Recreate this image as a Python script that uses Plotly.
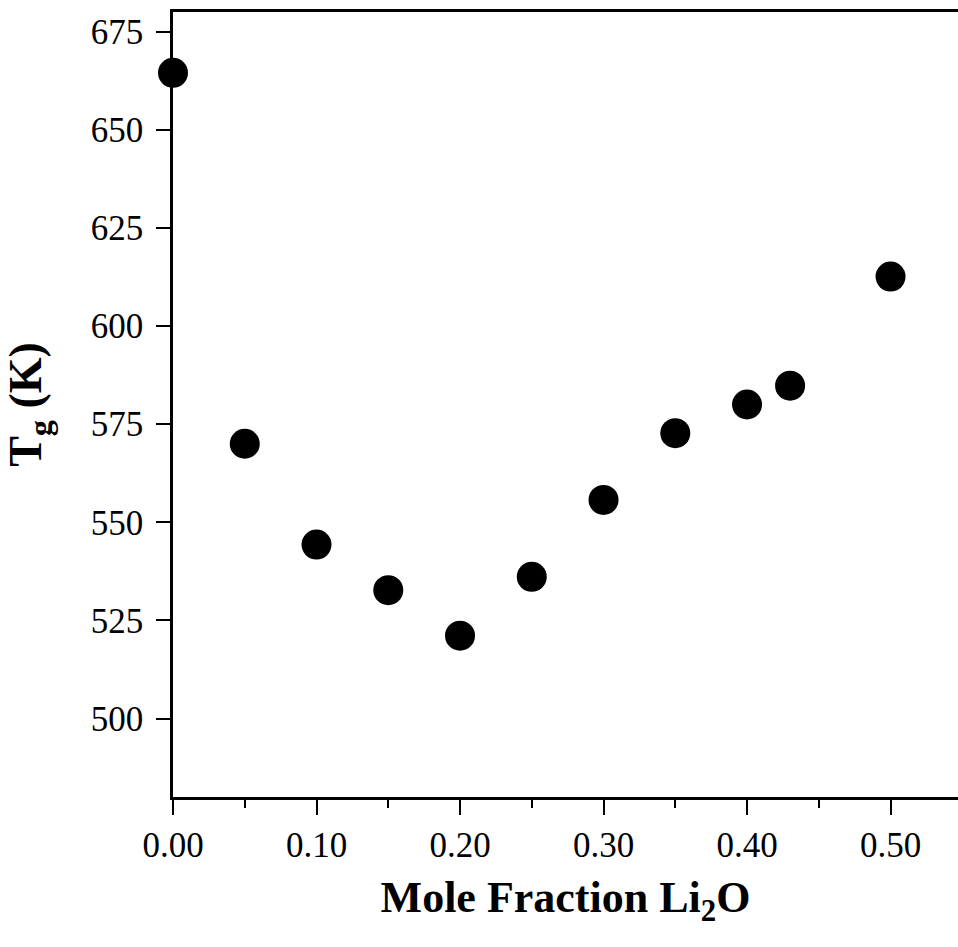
import plotly.graph_objects as go

mole_fraction = [0.00, 0.05, 0.10, 0.15, 0.20, 0.25, 0.30, 0.35, 0.40, 0.43, 0.50]
tg_kelvin = [664.5, 570.0, 544.3, 532.7, 521.1, 536.1, 555.7, 572.7, 580.0, 584.8, 612.6]

x_tick_vals = [0.0, 0.1, 0.2, 0.3, 0.4, 0.5]
x_tick_text = ["0.00", "0.10", "0.20", "0.30", "0.40", "0.50"]
x_minor_vals = [0.05, 0.15, 0.25, 0.35, 0.45, 0.55]
y_tick_vals = [500, 525, 550, 575, 600, 625, 650, 675]

font_family = "Liberation Serif, Times New Roman, serif"

fig = go.Figure()
fig.add_trace(go.Scatter(
    x=mole_fraction, y=tg_kelvin, mode="markers",
    marker=dict(size=30, color="black", line=dict(width=0)),
    cliponaxis=False, showlegend=False,
))

fig.update_layout(
    width=958, height=947,
    margin=dict(l=173, r=0, t=12, b=150, autoexpand=False),
    paper_bgcolor="white", plot_bgcolor="white",
    font=dict(family=font_family, color="black", size=35),
    xaxis=dict(
        range=[0, 0.547], showgrid=False, zeroline=False, automargin=False,
        showline=True, linecolor="black", linewidth=2.5, mirror=True,
        tickmode="array", tickvals=x_tick_vals, ticktext=x_tick_text,
        ticks="outside", ticklen=15, tickwidth=2, tickcolor="black",
        minor=dict(tickvals=x_minor_vals, ticks="outside",
                   ticklen=8, tickwidth=2, tickcolor="black"),
        tickfont=dict(size=35, family=font_family, color="black"),
        title=dict(text="<b>Mole Fraction Li<sub>2</sub>O</b>",
                   font=dict(size=44, family=font_family, color="black"), standoff=18),
    ),
    yaxis=dict(
        range=[480, 680], showgrid=False, zeroline=False, automargin=False,
        showline=True, linecolor="black", linewidth=2.5,
        tickmode="array", tickvals=y_tick_vals,
        ticks="outside", ticklen=14, tickwidth=2, tickcolor="black",
        tickfont=dict(size=35, family=font_family, color="black"),
        ticklabelstandoff=6,
        title=dict(text="<b>T<sub>g</sub> (K)</b>",
                   font=dict(size=46, family=font_family, color="black"), standoff=36),
    ),
)

fig.write_html("out.html", config={"displayModeBar": False},
               post_script="document.body.style.margin='0';document.body.style.overflow='hidden';")
